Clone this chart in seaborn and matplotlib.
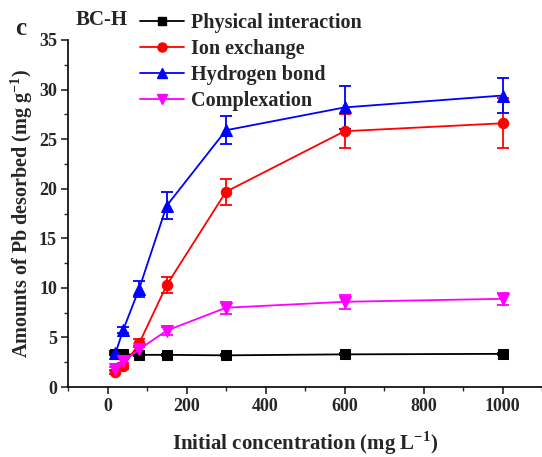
import numpy as np
import pandas as pd
import matplotlib
matplotlib.use("Agg")
import matplotlib.pyplot as plt
import seaborn as sns
from matplotlib.ticker import MultipleLocator
from matplotlib.lines import Line2D

sns.set_theme(style="ticks")
plt.rcParams['font.family'] = ['Liberation Serif', 'DejaVu Serif']
plt.rcParams['font.weight'] = 'bold'
plt.rcParams['mathtext.fontset'] = 'custom'
plt.rcParams['mathtext.rm'] = 'Liberation Serif:bold'
plt.rcParams['mathtext.bf'] = 'Liberation Serif:bold'

conc = [20, 40, 80, 150, 300, 600, 1000]
series_names = ["Physical interaction", "Ion exchange", "Hydrogen bond", "Complexation"]
physical = [3.3, 3.3, 3.25, 3.25, 3.2, 3.3, 3.35]
physical_err = [0.1, 0.1, 0.1, 0.1, 0.1, 0.1, 0.1]
ion = [1.5, 2.1, 4.4, 10.3, 19.7, 25.8, 26.6]
ion_err = [0.2, 0.3, 0.4, 0.8, 1.3, 1.7, 2.5]
hydrogen = [3.4, 5.8, 9.9, 18.3, 25.9, 28.2, 29.4]
hydrogen_err = [0.2, 0.3, 0.8, 1.4, 1.4, 2.2, 1.8]
complexation = [1.8, 2.6, 3.8, 5.7, 8.0, 8.6, 8.9]
complexation_err = [0.2, 0.2, 0.3, 0.4, 0.6, 0.7, 0.6]

values = [physical, ion, hydrogen, complexation]
errors = [physical_err, ion_err, hydrogen_err, complexation_err]
colors = ["black", "#ff0000", "#0000ff", "#ff00ff"]
markers = ["s", "o", "^", "v"]
msizes = [6.5, 7.5, 8, 8]

fig = plt.figure(figsize=(5.42, 4.57), dpi=100)
ax = fig.add_axes([0.1255, 0.153, 0.8745, 0.7595])

handles = []
for name, v, e, c, m, ms in zip(series_names, values, errors, colors, markers, msizes):
    df = pd.DataFrame({"x": conc, "y": v})
    ax.errorbar(conc, v, yerr=e, fmt="none", ecolor=c, elinewidth=1.3,
                capsize=4, capthick=1.3, zorder=2)
    sns.lineplot(data=df, x="x", y="y", ax=ax, color=c, marker=m,
                 markersize=ms, markeredgecolor=c, linewidth=1.3, zorder=3)
    handles.append(Line2D([], [], color=c, marker=m, markersize=ms - 1,
                          markeredgecolor=c, linewidth=1.3))

ax.set_xlim(-100, 1100)
ax.set_ylim(0, 35)
ax.xaxis.set_major_locator(MultipleLocator(200))
ax.xaxis.set_minor_locator(MultipleLocator(100))
ax.yaxis.set_major_locator(MultipleLocator(5))
ax.yaxis.set_minor_locator(MultipleLocator(2.5))
ax.tick_params(axis="both", which="major", length=5, width=1.2, direction="out",
               labelsize=13, pad=3)
ax.tick_params(axis="both", which="minor", length=3, width=1.0, direction="out")
for lab in ax.get_xticklabels() + ax.get_yticklabels():
    lab.set_fontweight("bold")
for s in ["top", "right"]:
    ax.spines[s].set_visible(False)
for s in ["left", "bottom"]:
    ax.spines[s].set_linewidth(1.2)
    ax.spines[s].set_color("black")

ax.set_xlabel(r"Initial concentration (mg L$^{-1}$)", fontsize=15,
              fontweight="bold", labelpad=10)
ax.set_ylabel(r"Amounts of Pb desorbed (mg g$^{-1}$)", fontsize=14.5,
              fontweight="bold", labelpad=3)

leg = ax.legend(handles, series_names, loc="upper left",
                bbox_to_anchor=(0.135, 1.10), frameon=False,
                prop={"family": "Liberation Serif", "weight": "bold", "size": 14.5},
                handlelength=2.2, handletextpad=0.35, labelspacing=0.3,
                borderaxespad=0)

fig.text(0.14, 0.956, "BC-H", fontsize=15, fontweight="bold", va="center")
fig.text(0.027, 0.937, "c", fontsize=18, fontweight="bold", va="center")

fig.savefig("out.png", dpi=100)
